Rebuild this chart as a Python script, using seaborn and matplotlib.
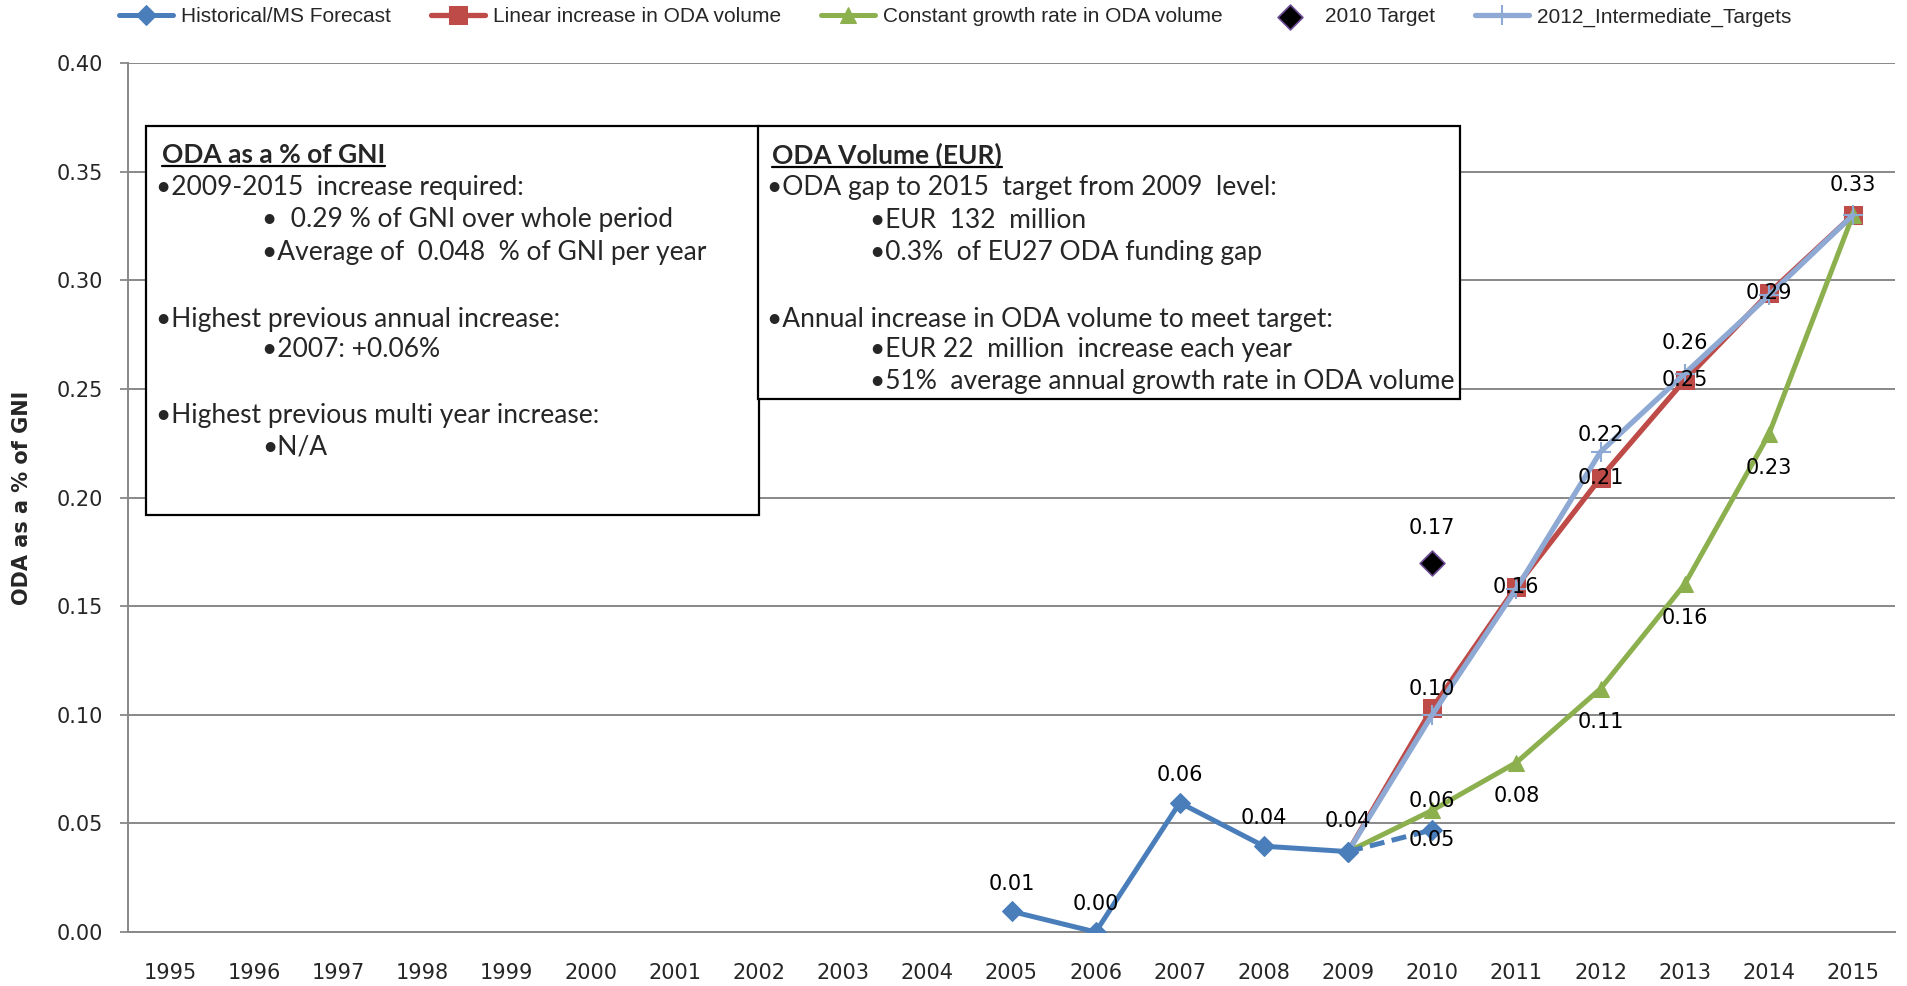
import matplotlib
matplotlib.use("Agg")
import matplotlib.pyplot as plt
from matplotlib import font_manager
from matplotlib.lines import Line2D
from matplotlib.patches import Rectangle
from matplotlib.transforms import IdentityTransform
import seaborn as sns

# ---- data ----
years = list(range(1995, 2016))
hist_years = [2005, 2006, 2007, 2008, 2009]
hist_vals = [0.0095, 0.0, 0.0595, 0.0395, 0.037]
fcst_years = [2009, 2010]
fcst_vals = [0.037, 0.047]
path_years = [2009, 2010, 2011, 2012, 2013, 2014, 2015]
linear_vals = [0.037, 0.103, 0.159, 0.209, 0.254, 0.294, 0.330]
growth_vals = [0.037, 0.056, 0.078, 0.112, 0.160, 0.229, 0.330]
interim_vals = [0.037, 0.100, 0.158, 0.221, 0.257, 0.293, 0.330]
target_years = [2010]
target_vals = [0.17]

box1_title = "ODA as a % of GNI"
box1_lines = [
    (0, "\u20222009-2015  increase required:"),
    (1, "\u2022  0.29 % of GNI over whole period"),
    (1, "\u2022Average of  0.048  % of GNI per year"),
    (0, "\u2022Highest previous annual increase:"),
    (1, "\u20222007: +0.06%"),
    (0, "\u2022Highest previous multi year increase:"),
    (1, "\u2022N/A"),
]
box2_title = "ODA Volume (EUR)"
box2_lines = [
    (0, "\u2022ODA gap to 2015  target from 2009  level:"),
    (1, "\u2022EUR  132  million"),
    (1, "\u20220.3%  of EU27 ODA funding gap"),
    (0, "\u2022Annual increase in ODA volume to meet target:"),
    (1, "\u2022EUR 22  million  increase each year"),
    (1, "\u202251%  average annual growth rate in ODA volume"),
]

W, H = 1908, 986
C_HIST = "#4A7EBB"
C_LIN = "#BE4B48"
C_GROW = "#8DB04F"
C_INT = "#8EA9D3"
C_GRID = "#888888"

sns.set_style("white")
plt.rcParams["font.family"] = ["DejaVu Sans"]
installed = {f.name for f in font_manager.fontManager.ttflist}
box_font = "Lato" if "Lato" in installed else "DejaVu Sans"
leg_font = "Liberation Sans Narrow" if "Liberation Sans Narrow" in installed else "Liberation Sans"

fig = plt.figure(figsize=(W / 100, H / 100), dpi=100)
ax = fig.add_axes([128 / W, 1 - 932 / H, (1895 - 128) / W, (932 - 63) / H])

# projections share the 2009 start point; only mark the projected years
proj_marks = list(range(1, len(path_years)))

# ---- series ----
sns.lineplot(x=hist_years, y=hist_vals, ax=ax, color=C_HIST, lw=3.6, marker="D",
             markersize=10.5, mec=C_HIST, mfc=C_HIST, label="Historical/MS Forecast", zorder=4)
sns.lineplot(x=fcst_years, y=fcst_vals, ax=ax, color=C_HIST, lw=3.6, ls=(0, (3, 1.5)),
             marker="D", markersize=10.5, mec=C_HIST, mfc=C_HIST, legend=False, zorder=4)
sns.lineplot(x=path_years, y=linear_vals, ax=ax, color=C_LIN, lw=3.8, marker="s",
             markersize=13, mec=C_LIN, mfc=C_LIN, markevery=proj_marks,
             label="Linear increase in ODA volume", zorder=3)
sns.lineplot(x=path_years, y=growth_vals, ax=ax, color=C_GROW, lw=3.6, marker="^",
             markersize=12, mec=C_GROW, mfc=C_GROW, markevery=proj_marks,
             label="Constant growth rate in ODA volume", zorder=3)
sns.scatterplot(x=target_years, y=target_vals, ax=ax, color="black", marker="D", s=160,
                edgecolor="#6E4C96", linewidth=1.2, label="2010 Target", zorder=5)
sns.lineplot(x=path_years, y=interim_vals, ax=ax, color=C_INT, lw=3.8, marker="+",
             markersize=14, mew=1.5, mec=C_INT, markevery=proj_marks,
             label="2012_Intermediate_Targets", zorder=3)

# ---- data labels (offsets in points: >0 above, <0 below) ----
def put_labels(xs, ys, offsets):
    for x, y, dy in zip(xs, ys, offsets):
        if dy is None:
            continue
        ax.annotate(f"{y:.2f}", (x, y), xytext=(0, dy), textcoords="offset points",
                    ha="center", va="center", fontsize=15, color="black", zorder=7)

put_labels(hist_years, hist_vals, [20, 20, 20, 20, 22])
put_labels(fcst_years[1:], fcst_vals[1:], [-7])
put_labels(path_years, linear_vals, [None, 14, 0, 0, 0, 0, None])
put_labels(path_years, growth_vals, [None, 7, -24, -24, -24, -24, None])
put_labels(path_years, interim_vals, [None, None, None, 12, 22, None, 22])
put_labels(target_years, target_vals, [25])

# ---- axes styling ----
ax.set_xlim(1994.5, 2015.5)
ax.set_ylim(0, 0.40)
ax.set_yticks([i * 0.05 for i in range(9)])
ax.set_yticklabels([f"{i * 0.05:.2f}" for i in range(9)], fontsize=15)
ax.set_xticks(years)
ax.set_xticklabels([str(y) for y in years], fontsize=15)
ax.set_xticks([y - 0.5 for y in years] + [2015.5], minor=True)
ax.tick_params(axis="x", which="major", length=0, pad=22)
ax.tick_params(axis="x", which="minor", length=6, width=1.3, color=C_GRID, direction="out")
ax.tick_params(axis="y", length=6, width=1.3, color=C_GRID, direction="out", pad=12, left=True)
ax.yaxis.grid(True, color=C_GRID, lw=1.4)
ax.set_axisbelow(True)
for s in ["top", "right"]:
    ax.spines[s].set_visible(False)
for s in ["left", "bottom"]:
    ax.spines[s].set_color(C_GRID)
    ax.spines[s].set_linewidth(1.4)
ax.set_xlabel("")
ax.set_ylabel("ODA as a % of GNI", fontsize=15, fontweight="bold", family="DejaVu Sans")
ax.yaxis.set_label_coords(-(128 - 32) / (1895 - 128), 0.5)

# ---- legend ----
handles, labels = ax.get_legend_handles_labels()
ax.get_legend().remove()
fig.legend(handles, labels, loc="center", bbox_to_anchor=(955 / W, 1 - 17 / H), ncol=5,
           frameon=False, prop={"family": leg_font, "size": 15}, handlelength=2.6,
           columnspacing=1.9, handletextpad=0.4)

# ---- text boxes ----
def fx(px):
    return px / W

def fy(py):
    return 1 - py / H

def text_box(x0, x1, y0, y1, title, lines, title_x, x_main, x_sub, ys):
    fig.add_artist(Rectangle((fx(x0), fy(y1)), fx(x1) - fx(x0), fy(y0) - fy(y1),
                             transform=fig.transFigure, facecolor="white",
                             edgecolor="black", lw=1.6, zorder=5))
    t = fig.text(fx(title_x), fy(155), title, family=box_font, fontweight="bold",
                 fontsize=19, ha="left", va="center", zorder=6)
    for (lvl, s), yy in zip(lines, ys):
        fig.text(fx(x_sub if lvl else x_main), fy(yy), s, family=box_font, fontsize=19,
                 ha="left", va="center", zorder=6)
    return t

t1 = text_box(146, 759, 126, 515, box1_title, box1_lines, 162, 156, 262,
              [187, 220, 252, 319, 350, 415, 447])
t2 = text_box(758, 1460, 126, 399, box2_title, box2_lines, 772, 767, 870,
              [187, 220, 252, 319, 350, 381])

fig.canvas.draw()
for t in (t1, t2):
    bb = t.get_window_extent()
    fig.add_artist(Line2D([bb.x0, bb.x1], [bb.y0 + 1, bb.y0 + 1], transform=IdentityTransform(),
                          color="black", lw=1.6, zorder=6))

fig.savefig("out.png", dpi=100)
